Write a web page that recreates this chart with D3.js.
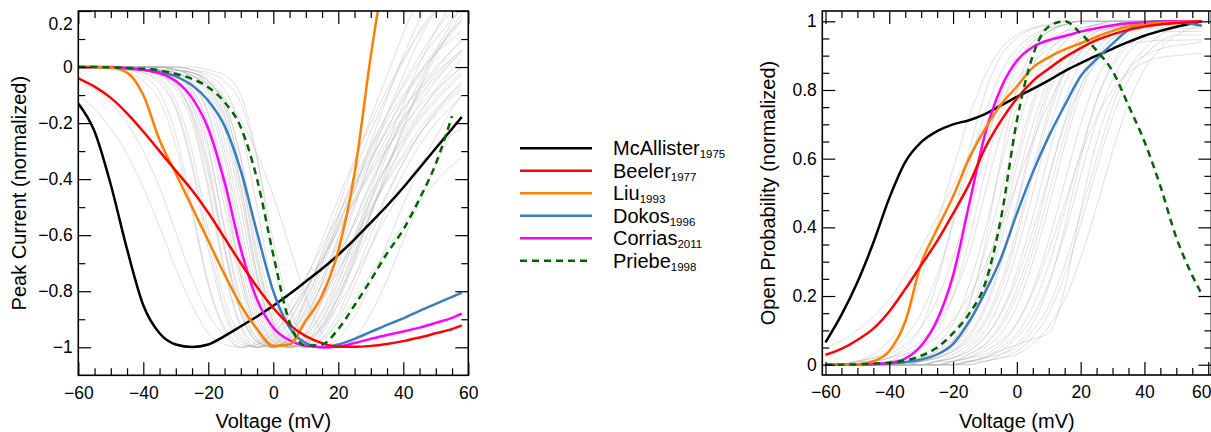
<!DOCTYPE html>
<html><head><meta charset="utf-8">
<script src="https://cdn.jsdelivr.net/npm/d3@7"></script>
<style>
body{margin:0;background:#fff;}
svg{display:block;}
</style></head><body>
<svg id="chart" width="1211" height="432"></svg>
<script>
// ---------------- DATA ----------------
const voltage = [-60,-55,-50,-45,-40,-35,-30,-25,-20,-15,-10,-5,0,5,10,15,20,25,30,35,40,45,50,55,58];

const voltageTicks = [-60,-40,-20,0,20,40,60];
const peakTicks = [-1,-0.8,-0.6,-0.4,-0.2,0,0.2];
const openTicks = [0,0.2,0.4,0.6,0.8,1];

const modelNames = ["McAllister","Beeler","Liu","Dokos","Corrias","Priebe"];
const modelYears = ["1975","1977","1993","1996","2011","1998"];

// Peak current (normalized), left panel
const peakMcAllister = [-0.13,-0.23,-0.42,-0.65,-0.85,-0.95,-0.99,-0.999,-0.99,-0.96,-0.925,-0.89,-0.852,-0.81,-0.765,-0.72,-0.67,-0.615,-0.555,-0.495,-0.43,-0.36,-0.29,-0.22,-0.178];
const peakBeeler = [-0.04,-0.07,-0.11,-0.165,-0.23,-0.30,-0.37,-0.44,-0.52,-0.61,-0.70,-0.785,-0.86,-0.92,-0.96,-0.985,-0.998,-0.998,-0.995,-0.988,-0.978,-0.965,-0.95,-0.935,-0.922];
const peakLiu = [0,0,-0.002,-0.02,-0.1,-0.26,-0.38,-0.5,-0.62,-0.74,-0.85,-0.935,-0.995,-0.99,-0.905,-0.815,-0.655,-0.38,0.04,0.4,null,null,null,null,null];
const peakDokos = [0,0,-0.002,-0.005,-0.01,-0.018,-0.033,-0.065,-0.12,-0.21,-0.37,-0.59,-0.8,-0.93,-0.985,-1.0,-0.99,-0.97,-0.945,-0.92,-0.897,-0.87,-0.845,-0.82,-0.805];
const peakCorrias = [0,0,0,-0.004,-0.01,-0.022,-0.05,-0.11,-0.22,-0.41,-0.65,-0.83,-0.93,-0.975,-0.995,-1.0,-0.997,-0.985,-0.97,-0.956,-0.944,-0.93,-0.913,-0.895,-0.88];
const peakPriebe = [0,0,-0.001,-0.003,-0.006,-0.012,-0.025,-0.042,-0.072,-0.125,-0.215,-0.4,-0.67,-0.91,-0.995,-0.99,-0.935,-0.85,-0.76,-0.665,-0.58,-0.47,-0.345,-0.175,null];

// Open probability (normalized), right panel
const openMcAllister = [0.065,0.145,0.24,0.355,0.485,0.59,0.648,0.68,0.70,0.712,0.73,0.755,0.78,0.803,0.828,0.855,0.878,0.90,0.92,0.94,0.958,0.972,0.984,0.994,1.0];
const openBeeler = [0.029,0.046,0.072,0.105,0.155,0.22,0.29,0.36,0.44,0.525,0.63,0.71,0.775,0.826,0.862,0.895,0.922,0.945,0.962,0.975,0.985,0.991,0.995,0.998,1.0];
const openLiu = [0,0,0.001,0.01,0.04,0.125,0.295,0.395,0.49,0.60,0.686,0.758,0.81,0.865,0.895,0.918,0.936,0.955,0.972,0.985,0.992,0.996,0.998,0.999,1.0];
const openDokos = [0,0,0.001,0.002,0.004,0.007,0.015,0.03,0.06,0.125,0.21,0.31,0.44,0.56,0.665,0.755,0.84,0.89,0.935,0.975,0.995,1.0,0.998,0.992,0.987];
const openCorrias = [0,0,0.001,0.002,0.005,0.018,0.055,0.13,0.26,0.465,0.67,0.805,0.885,0.925,0.945,0.957,0.97,0.98,0.988,0.994,0.997,0.999,1,1,1];
const openPriebe = [0,0,0.001,0.003,0.006,0.012,0.026,0.05,0.092,0.148,0.235,0.425,0.71,0.9,0.985,1.0,0.965,0.915,0.855,0.755,0.65,0.52,0.37,0.26,0.205];

// Other models (grey background curves)
const peakOthers = [
 [0,0,0,-0.01,-0.03,-0.09,-0.24,-0.5,-0.77,-0.93,-0.99,-1.0,-0.97,-0.9,-0.8,-0.68,-0.56,-0.44,-0.33,-0.22,-0.12,-0.03,0.05,0.12,0.16],
 [0,0,0,0,-0.01,-0.04,-0.12,-0.3,-0.58,-0.83,-0.96,-1.0,-0.98,-0.91,-0.8,-0.67,-0.53,-0.4,-0.28,-0.17,-0.07,0.02,0.1,0.17,0.21],
 [0,0,0,0,-0.01,-0.02,-0.06,-0.18,-0.42,-0.72,-0.92,-0.99,-1.0,-0.96,-0.86,-0.72,-0.57,-0.43,-0.3,-0.19,-0.1,-0.02,0.05,0.1,0.13],
 [0,0,0,0,0,-0.01,-0.03,-0.1,-0.28,-0.58,-0.85,-0.97,-1.0,-0.97,-0.89,-0.77,-0.63,-0.49,-0.36,-0.25,-0.15,-0.07,0.0,0.06,0.09],
 [0,0,0,0,0,-0.01,-0.02,-0.06,-0.17,-0.42,-0.72,-0.92,-0.99,-1.0,-0.95,-0.84,-0.7,-0.55,-0.41,-0.29,-0.19,-0.11,-0.04,0.02,0.05],
 [0,0,0,0,0,0,-0.01,-0.03,-0.09,-0.26,-0.56,-0.84,-0.97,-1.0,-0.96,-0.87,-0.74,-0.6,-0.47,-0.35,-0.25,-0.16,-0.09,-0.03,0.0],
 [0,0,0,0,0,0,-0.01,-0.02,-0.05,-0.14,-0.38,-0.7,-0.92,-0.99,-1.0,-0.94,-0.82,-0.67,-0.52,-0.39,-0.28,-0.19,-0.12,-0.06,-0.03],
 [0,0,0,0,0,0,0,-0.01,-0.03,-0.08,-0.22,-0.5,-0.8,-0.96,-1.0,-0.97,-0.88,-0.75,-0.6,-0.46,-0.34,-0.24,-0.16,-0.1,-0.07],
 [0,0,0,0,0,0,0,0,-0.01,-0.03,-0.1,-0.32,-0.68,-0.93,-1.0,-0.98,-0.9,-0.78,-0.64,-0.5,-0.38,-0.28,-0.2,-0.14,-0.1],
 [0,0,0,0,0,-0.01,-0.02,-0.06,-0.16,-0.38,-0.68,-0.9,-0.99,-1.0,-0.98,-0.93,-0.85,-0.75,-0.64,-0.53,-0.43,-0.35,-0.29,-0.24,-0.22],
 [0,0,0,0,0,-0.01,-0.03,-0.09,-0.24,-0.5,-0.78,-0.95,-1.0,-0.96,-0.82,-0.66,-0.5,-0.34,-0.18,-0.03,0.12,0.25,0.35,0.42,0.46],
 [0,0,0,0,-0.01,-0.02,-0.06,-0.16,-0.36,-0.64,-0.87,-0.98,-1.0,-0.95,-0.84,-0.7,-0.54,-0.38,-0.23,-0.1,0.02,0.12,0.2,0.26,0.29],
 [-0.1,-0.15,-0.22,-0.31,-0.43,-0.57,-0.72,-0.85,-0.95,-0.99,-1.0,-0.98,-0.93,-0.85,-0.75,-0.64,-0.53,-0.42,-0.32,-0.23,-0.15,-0.08,-0.02,0.03,0.06],
 [-0.05,-0.08,-0.13,-0.2,-0.3,-0.43,-0.59,-0.75,-0.88,-0.96,-1.0,-0.99,-0.95,-0.88,-0.79,-0.69,-0.58,-0.48,-0.38,-0.29,-0.21,-0.14,-0.08,-0.03,0.0],
 [0,0,0,0,0,0,-0.01,-0.02,-0.06,-0.17,-0.42,-0.74,-0.94,-1.0,-0.99,-0.92,-0.8,-0.64,-0.47,-0.31,-0.17,-0.05,0.05,0.13,0.17],
 [0,0,0,0,0,-0.01,-0.01,-0.04,-0.11,-0.3,-0.6,-0.86,-0.98,-1.0,-0.97,-0.9,-0.79,-0.66,-0.52,-0.39,-0.27,-0.17,-0.08,-0.01,0.03],
 [0,0,0,-0.01,-0.02,-0.05,-0.14,-0.34,-0.62,-0.86,-0.97,-1.0,-0.99,-0.95,-0.88,-0.78,-0.67,-0.56,-0.45,-0.35,-0.26,-0.18,-0.11,-0.05,-0.02],
 [0,0,0,0,-0.01,-0.03,-0.08,-0.2,-0.44,-0.73,-0.93,-1.0,-0.99,-0.93,-0.83,-0.7,-0.56,-0.42,-0.29,-0.17,-0.06,0.04,0.13,0.2,0.24],
 [0,0,0,0,0,0,0,-0.01,-0.02,-0.05,-0.13,-0.33,-0.62,-0.86,-0.97,-1.0,-0.97,-0.89,-0.77,-0.63,-0.49,-0.36,-0.25,-0.15,-0.1],
 [0,0,0,0,0,0,-0.01,-0.02,-0.07,-0.2,-0.46,-0.76,-0.95,-1.0,-0.98,-0.9,-0.77,-0.61,-0.44,-0.28,-0.13,0.01,0.13,0.23,0.28],
 [0,0,-0.01,-0.02,-0.05,-0.12,-0.28,-0.52,-0.78,-0.94,-1.0,-0.99,-0.95,-0.88,-0.79,-0.69,-0.58,-0.47,-0.37,-0.27,-0.18,-0.1,-0.03,0.03,0.06],
 [0,0,0,0,0,-0.01,-0.03,-0.08,-0.2,-0.44,-0.74,-0.94,-1.0,-0.98,-0.9,-0.77,-0.61,-0.44,-0.27,-0.11,0.04,0.17,0.28,0.37,0.41],
 [0,0,0,0,0,0,-0.01,-0.02,-0.05,-0.15,-0.37,-0.68,-0.91,-0.99,-1.0,-0.97,-0.91,-0.83,-0.74,-0.65,-0.56,-0.48,-0.41,-0.35,-0.32],
 [0,0,0,0,-0.01,-0.02,-0.05,-0.13,-0.3,-0.57,-0.83,-0.97,-1.0,-0.97,-0.9,-0.8,-0.68,-0.55,-0.42,-0.3,-0.19,-0.09,-0.01,0.06,0.1],
 [0,0,0,0,0,-0.01,-0.02,-0.03,-0.06,-0.11,-0.19,-0.31,-0.46,-0.64,-0.82,-0.95,-1.0,-0.97,-0.88,-0.76,-0.62,-0.48,-0.35,-0.23,-0.17],
 [0,0,0,0,0,0,-0.01,-0.03,-0.08,-0.22,-0.5,-0.8,-0.96,-1.0,-0.95,-0.83,-0.67,-0.5,-0.33,-0.17,-0.03,0.1,0.2,0.28,0.32],
 [0,0,0,0,-0.01,-0.02,-0.05,-0.14,-0.34,-0.64,-0.88,-0.98,-1.0,-0.96,-0.87,-0.75,-0.61,-0.47,-0.34,-0.22,-0.11,-0.02,0.06,0.13,0.17],
 [0,0,0,0,0,-0.01,-0.02,-0.05,-0.13,-0.33,-0.63,-0.88,-0.98,-1.0,-0.96,-0.88,-0.76,-0.62,-0.48,-0.35,-0.23,-0.13,-0.05,0.02,0.06],
 [0,0,0,0,0,0,-0.01,-0.03,-0.07,-0.18,-0.43,-0.74,-0.94,-1.0,-0.98,-0.92,-0.82,-0.7,-0.57,-0.45,-0.34,-0.24,-0.16,-0.09,-0.05],
 [0,0,0,-0.01,-0.02,-0.06,-0.15,-0.36,-0.65,-0.88,-0.98,-1.0,-0.96,-0.88,-0.76,-0.62,-0.47,-0.33,-0.2,-0.08,0.03,0.13,0.21,0.28,0.32],
 [0,0,0,0,0,-0.01,-0.03,-0.08,-0.21,-0.46,-0.75,-0.94,-1.0,-0.98,-0.92,-0.83,-0.73,-0.62,-0.51,-0.41,-0.32,-0.24,-0.17,-0.11,-0.08],
 [0,0,0,0,0,0,-0.01,-0.02,-0.05,-0.13,-0.32,-0.62,-0.88,-0.99,-1.0,-0.95,-0.84,-0.69,-0.53,-0.37,-0.22,-0.08,0.04,0.14,0.19],
 [0,0,0,0,-0.01,-0.03,-0.07,-0.17,-0.38,-0.66,-0.88,-0.98,-1.0,-0.97,-0.91,-0.82,-0.72,-0.61,-0.5,-0.4,-0.31,-0.22,-0.15,-0.09,-0.06],
 [0,0,0,0,0,0,0,-0.01,-0.04,-0.12,-0.33,-0.66,-0.91,-1.0,-0.99,-0.93,-0.82,-0.68,-0.52,-0.36,-0.21,-0.07,0.06,0.16,0.22]
];
const openOthers = [
 [0,0,0.01,0.03,0.07,0.13,0.25,0.41,0.57,0.72,0.84,0.92,0.96,0.98,0.99,1,1,1,1,1,1,1,1,1,1],
 [0,0,0,0.01,0.02,0.05,0.11,0.24,0.42,0.62,0.79,0.9,0.95,0.98,0.99,1,1,1,1,1,1,1,1,1,1],
 [0,0,0,0,0.01,0.03,0.06,0.12,0.24,0.42,0.62,0.79,0.9,0.95,0.98,0.99,1,1,1,1,1,1,1,1,1],
 [0,0,0.01,0.01,0.02,0.04,0.07,0.12,0.2,0.32,0.5,0.67,0.8,0.89,0.94,0.97,0.98,0.99,1,1,1,1,1,1,1],
 [0,0,0,0,0.01,0.01,0.03,0.06,0.12,0.23,0.39,0.58,0.75,0.87,0.94,0.97,0.99,1,1,1,1,1,1,1,1],
 [0,0,0,0,0,0.01,0.02,0.04,0.09,0.18,0.33,0.5,0.68,0.82,0.91,0.96,0.98,0.99,1,1,1,1,1,1,1],
 [0,0,0,0,0,0.01,0.01,0.03,0.07,0.14,0.27,0.43,0.61,0.77,0.88,0.94,0.97,0.99,0.99,1,1,1,1,1,1],
 [0,0,0,0,0.01,0.01,0.02,0.04,0.07,0.12,0.22,0.36,0.53,0.7,0.83,0.91,0.96,0.98,0.99,1,1,1,1,1,1],
 [0,0,0,0,0,0,0.01,0.02,0.04,0.09,0.17,0.3,0.46,0.64,0.79,0.89,0.95,0.98,0.99,1,1,1,1,1,1],
 [0,0,0,0,0,0,0.01,0.02,0.04,0.07,0.13,0.24,0.39,0.57,0.74,0.86,0.93,0.97,0.98,0.99,1,1,1,1,1],
 [0,0,0,0,0,0,0,0.01,0.02,0.05,0.1,0.19,0.33,0.5,0.68,0.82,0.91,0.96,0.98,0.99,1,1,1,1,1],
 [0,0,0,0,0,0,0,0.01,0.02,0.04,0.08,0.15,0.27,0.43,0.61,0.77,0.88,0.94,0.97,0.99,0.99,1,1,1,1],
 [0,0,0,0,0,0,0,0.01,0.01,0.03,0.06,0.12,0.22,0.36,0.54,0.71,0.84,0.92,0.96,0.98,0.99,1,1,1,1],
 [0,0,0,0,0,0,0,0,0.01,0.02,0.05,0.09,0.17,0.3,0.46,0.64,0.79,0.89,0.95,0.97,0.99,0.99,1,1,1],
 [0,0,0,0,0,0,0,0,0.01,0.02,0.03,0.06,0.12,0.22,0.36,0.53,0.7,0.83,0.91,0.96,0.98,0.99,1,1,1],
 [0,0,0,0,0,0,0,0,0,0.01,0.02,0.04,0.08,0.14,0.24,0.38,0.55,0.71,0.83,0.91,0.95,0.98,0.99,0.99,1],
 [0,0,0,0,0,0,0,0,0,0.01,0.01,0.03,0.05,0.1,0.17,0.29,0.44,0.6,0.75,0.86,0.92,0.96,0.98,0.99,0.99],
 [0,0,0,0,0,0,0,0,0,0,0.01,0.02,0.03,0.06,0.11,0.19,0.31,0.46,0.62,0.76,0.86,0.92,0.96,0.98,0.99],
 [0,0,0,0,0,0,0,0,0.01,0.02,0.04,0.07,0.12,0.21,0.33,0.47,0.61,0.72,0.8,0.85,0.88,0.895,0.9,0.905,0.907],
 [0,0,0,0,0,0,0,0.01,0.02,0.04,0.08,0.15,0.25,0.39,0.55,0.7,0.81,0.88,0.92,0.935,0.94,0.945,0.945,0.946,0.946],
 [0,0,0,0,0,0,0,0,0,0.007,0.024,0.041,0.058,0.075,0.092,0.22,0.45,0.65,0.78,0.86,0.9,0.92,0.93,0.935,0.94],
 [0.05,0.07,0.1,0.14,0.19,0.26,0.34,0.43,0.52,0.61,0.7,0.77,0.83,0.88,0.92,0.95,0.97,0.98,0.99,0.99,1,1,1,1,1],
 [0,0,0.01,0.02,0.04,0.08,0.15,0.26,0.41,0.58,0.73,0.85,0.92,0.96,0.98,0.99,1,1,1,1,1,1,1,1,1],
 [0,0,0.01,0.01,0.02,0.03,0.05,0.08,0.13,0.2,0.29,0.4,0.53,0.65,0.76,0.85,0.91,0.95,0.97,0.98,0.99,1,1,1,1],
 [0,0,0,0,0,0,0,0,0,0.01,0.02,0.03,0.06,0.12,0.23,0.4,0.6,0.77,0.88,0.94,0.97,0.99,0.99,1,1],
 [0,0,0,0,0,0,0.01,0.03,0.07,0.17,0.35,0.6,0.8,0.92,0.97,0.99,1,1,1,1,1,1,1,1,1],
 [0,0,0,0,0.01,0.02,0.05,0.1,0.2,0.36,0.56,0.74,0.87,0.94,0.97,0.99,1,1,1,1,1,1,1,1,1],
 [0,0,0,0,0,0,0.01,0.02,0.05,0.11,0.22,0.39,0.58,0.75,0.87,0.94,0.97,0.99,1,1,1,1,1,1,1],
 [0,0,0,0,0,0,0,0.01,0.03,0.06,0.12,0.22,0.37,0.55,0.72,0.85,0.93,0.97,0.98,0.99,1,1,1,1,1],
 [0,0,0,0,0,0,0,0,0.01,0.03,0.06,0.11,0.2,0.33,0.5,0.67,0.81,0.9,0.95,0.97,0.98,0.98,0.98,0.98,0.98],
 [0,0,0,0,0,0,0,0,0,0.01,0.02,0.05,0.09,0.17,0.29,0.45,0.62,0.77,0.87,0.93,0.96,0.97,0.97,0.97,0.97],
 [0,0,0,0,0,0,0.01,0.02,0.04,0.08,0.16,0.29,0.47,0.66,0.81,0.9,0.95,0.98,0.99,1,1,1,1,1,1],
 [0,0,0.01,0.02,0.03,0.06,0.11,0.19,0.31,0.47,0.64,0.78,0.88,0.94,0.97,0.99,1,1,1,1,1,1,1,1,1],
 [0,0,0,0,0,0,0,0,0,0,0.01,0.02,0.04,0.08,0.15,0.26,0.41,0.57,0.72,0.83,0.9,0.94,0.96,0.96,0.96]
];

// ---------------- STYLE ----------------
const FONT = '"Liberation Sans", Arial, Helvetica, sans-serif';
const modelColors = ["#000000","#ff0000","#ff8000","#3b7ebf","#ff00ff","#006400"];
const modelDash = [null,null,null,null,null,"7,5"];
const drawOrder = [0,3,4,2,1,5];

const svg = d3.select("#chart");
const defs = svg.append("defs");
const fmt = d => (d < 0 ? "\u2212" : "") + Math.abs(d);

function panel(opt){
  const x = d3.scaleLinear().domain(opt.xDomain).range([opt.left, opt.right]);
  const y = d3.scaleLinear().domain(opt.yDomain).range([opt.bottom, opt.top]);
  const g = svg.append("g");
  const clipId = opt.id + "-clip";
  defs.append("clipPath").attr("id", clipId).append("rect")
    .attr("x", opt.left).attr("y", opt.top)
    .attr("width", opt.right - opt.left).attr("height", opt.bottom - opt.top);
  const plot = g.append("g").attr("clip-path", `url(#${clipId})`);
  const line = d3.line().defined(d => d[1] != null)
    .x(d => x(d[0])).y(d => y(d[1])).curve(d3.curveMonotoneX);
  const pts = arr => voltage.map((v, i) => [v, arr[i]]);

  plot.append("g").selectAll("path").data(opt.others).join("path")
    .attr("d", a => line(pts(a)))
    .attr("fill", "none").attr("stroke", "#b4b4b4")
    .attr("stroke-opacity", 0.42).attr("stroke-width", 1);

  drawOrder.forEach(i => {
    plot.append("path").attr("d", line(pts(opt.series[i])))
      .attr("fill", "none").attr("stroke", modelColors[i])
      .attr("stroke-width", 2.5)
      .attr("stroke-dasharray", modelDash[i])
      .attr("stroke-linejoin", "round");
  });

  const style = sel => {
    sel.select(".domain").remove();
    sel.selectAll(".tick line").attr("stroke", "#000").attr("stroke-width", 1.2);
    sel.attr("font-size", 17.5).attr("font-family", FONT);
    sel.selectAll(".tick text").attr("fill", "#000");
  };
  const minorX = d3.range(-60, 61, 5).filter(v => !voltageTicks.includes(v));
  const minorY = opt.minorY;

  g.append("g").attr("transform", `translate(0,${opt.bottom})`)
    .call(d3.axisBottom(x).tickValues(minorX).tickSize(-7).tickFormat("")).call(style);
  const bx = g.append("g").attr("transform", `translate(0,${opt.bottom})`)
    .call(d3.axisBottom(x).tickValues(voltageTicks).tickSize(-13).tickPadding(11).tickFormat(fmt)).call(style);
  g.append("g").attr("transform", `translate(0,${opt.top})`)
    .call(d3.axisTop(x).tickValues(minorX).tickSize(-7).tickFormat("")).call(style);
  g.append("g").attr("transform", `translate(0,${opt.top})`)
    .call(d3.axisTop(x).tickValues(voltageTicks).tickSize(-13).tickFormat("")).call(style);
  g.append("g").attr("transform", `translate(${opt.left},0)`)
    .call(d3.axisLeft(y).tickValues(minorY).tickSize(-7).tickFormat("")).call(style);
  const ly = g.append("g").attr("transform", `translate(${opt.left},0)`)
    .call(d3.axisLeft(y).tickValues(opt.yTicks).tickSize(-13).tickPadding(5.5).tickFormat(fmt)).call(style);
  g.append("g").attr("transform", `translate(${opt.right},0)`)
    .call(d3.axisRight(y).tickValues(minorY).tickSize(-7).tickFormat("")).call(style);
  g.append("g").attr("transform", `translate(${opt.right},0)`)
    .call(d3.axisRight(y).tickValues(opt.yTicks).tickSize(-13).tickFormat("")).call(style);

  if (opt.fixLabels) opt.fixLabels(bx, ly, x, y);

  g.append("rect").attr("x", opt.left).attr("y", opt.top)
    .attr("width", opt.right - opt.left).attr("height", opt.bottom - opt.top)
    .attr("fill", "none").attr("stroke", "#000").attr("stroke-width", 1.6);

  g.append("text").attr("x", x(0)).attr("y", 427.5)
    .attr("text-anchor", "middle").attr("font-family", FONT).attr("font-size", 20)
    .text("Voltage (mV)");
  g.append("text")
    .attr("transform", `translate(${opt.titleX},${(opt.top + opt.bottom) / 2}) rotate(-90)`)
    .attr("text-anchor", "middle").attr("font-family", FONT).attr("font-size", 20)
    .text(opt.yTitle);
}

panel({
  id: "peak", left: 78.3, right: 468.3, top: 11, bottom: 375.3,
  xDomain: [-60, 60], yDomain: [-1.1, 0.2],
  yTicks: peakTicks, minorY: [-0.9,-0.7,-0.5,-0.3,-0.1,0.1],
  series: [peakMcAllister, peakBeeler, peakLiu, peakDokos, peakCorrias, peakPriebe],
  others: peakOthers, yTitle: "Peak Current (normalized)", titleX: 26,
  fixLabels: (bx, ly, x, y) => {
    ly.selectAll(".tick").filter(d => d === 0.2).select("text").attr("y", 13.2);
  }
});

panel({
  id: "open", left: 822.3, right: 1211.4, top: 11, bottom: 375,
  xDomain: [-61, 61], yDomain: [-0.03, 1.03],
  yTicks: openTicks,
  minorY: [0.05,0.1,0.15,0.25,0.3,0.35,0.45,0.5,0.55,0.65,0.7,0.75,0.85,0.9,0.95],
  series: [openMcAllister, openBeeler, openLiu, openDokos, openCorrias, openPriebe],
  others: openOthers, yTitle: "Open Probability (normalized)", titleX: 775,
  fixLabels: (bx, ly, x, y) => {
    bx.selectAll(".tick").filter(d => d === 60).select("text")
      .attr("text-anchor", "end").attr("x", 1211 - x(60));
  }
});

// ---------------- LEGEND ----------------
const lg = svg.append("g").attr("font-family", FONT);
modelNames.forEach((name, i) => {
  const yy = 148.3 + i * 22.5;
  lg.append("line").attr("x1", 520).attr("x2", 592).attr("y1", yy).attr("y2", yy)
    .attr("stroke", modelColors[i]).attr("stroke-width", 2.5)
    .attr("stroke-dasharray", modelDash[i]);
  const t = lg.append("text").attr("x", 613).attr("y", yy + 7).attr("font-size", 20);
  t.append("tspan").text(name);
  t.append("tspan").attr("font-size", 11.5).attr("dy", 3).text(modelYears[i]);
});
</script>
</body></html>
